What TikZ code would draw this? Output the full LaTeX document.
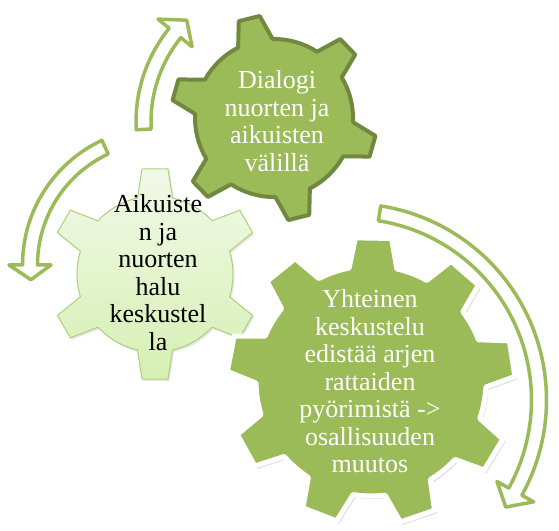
\documentclass[tikz,border=0pt]{standalone}
\usepackage{fontspec}
\setmainfont{Liberation Serif}
\usepackage{tikz}
\usetikzlibrary{shadows}
\definecolor{gearGreen}{RGB}{155,187,89}
\definecolor{gearDark}{RGB}{113,137,63}
\definecolor{gearLightTop}{RGB}{241,249,232}
\definecolor{gearLightBot}{RGB}{214,240,180}
\definecolor{gearLightEdge}{RGB}{172,208,122}
\newcommand{\gearFont}{\fontsize{26}{27.5}\selectfont}
% gear: centre, teeth, first tooth angle, inner r, outer r, tip half angle, base half angle
\newcommand{\gearShape}[7]{%
  ([shift={(#1)}]{#3-#7}:#4)
  \foreach \k [evaluate=\k as \a using {#3+360/#2*(\k-1)}] in {1,...,#2} {
    -- ([shift={(#1)}]{\a-#6}:#5) -- ([shift={(#1)}]{\a+#6}:#5)
    -- ([shift={(#1)}]{\a+#7}:#4)
    arc[start angle={\a+#7}, end angle={\a+360/#2-#7}, radius=#4]
  } -- cycle}
% round arrow: centre, r, half band, half head, start, head base, tip angle
\newcommand{\ringArrow}[7]{%
  ([shift={(#1)}]#5:{#2+#3}) arc[start angle=#5, end angle=#6, radius={#2+#3}]
  -- ([shift={(#1)}]#6:{#2+#4}) -- ([shift={(#1)}]#7:#2)
  -- ([shift={(#1)}]#6:{#2-#4}) -- ([shift={(#1)}]#6:{#2-#3})
  arc[start angle=#6, end angle=#5, radius={#2-#3}] -- cycle}

\begin{document}
\begin{tikzpicture}[x=1pt, y=1pt, line join=round]
    \useasboundingbox (0,0) rectangle (559,530);
    \coordinate (topC) at (274,412);
    \coordinate (leftC) at (155,256);
    \coordinate (bigC) at (371,149);
    \coordinate (arrTopC) at (285,408);
    \coordinate (arrLeftC) at (160,265);
    \coordinate (arrRightC) at (350,130);

    % round arrows
    \draw[gearGreen, line width=3.5pt, fill=white] \ringArrow{arrTopC}{141.5}{7.5}{22}{183}{141}{134};
    \draw[gearGreen, line width=3.5pt, fill=white] \ringArrow{arrLeftC}{130}{7.5}{21}{115}{180}{186.5};
    \draw[gearGreen, line width=3.5pt, fill=white] \ringArrow{arrRightC}{189}{7.5}{21}{81}{-29}{-34.5};

    % gears
    \draw[gearDark, line width=4pt, fill=gearGreen,
        drop shadow={shadow xshift=1.5pt, shadow yshift=-2pt, opacity=.2}]
        \gearShape{topC}{6}{104}{79}{103}{6}{13};
    \draw[gearLightEdge, line width=1pt, top color=gearLightTop, bottom color=gearLightBot,
        drop shadow={shadow xshift=1.5pt, shadow yshift=-2pt, opacity=.2}]
        \gearShape{leftC}{6}{90}{78}{106}{7}{13};
    \draw[white, line width=5pt, fill=gearGreen,
        drop shadow={shadow xshift=2.5pt, shadow yshift=-3pt, opacity=.25}]
        \gearShape{bigC}{9}{89}{115}{144}{7.2}{12};

    \node[text=white, align=center, font=\gearFont] (topTxt) at (277,409)
        {Dialogi\\nuorten ja\\aikuisten\\välillä};
    \node[text=black, align=center, font=\gearFont] (leftTxt) at (158,257.5)
        {Aikuiste\\n ja\\nuorten\\halu\\keskustel\\la};
    \node[text=white, align=center, font=\gearFont] (bigTxt) at (370,148.5)
        {Yhteinen\\keskustelu\\edistää arjen\\rattaiden\\pyörimistä ->\\osallisuuden\\muutos};
\end{tikzpicture}
\end{document}
